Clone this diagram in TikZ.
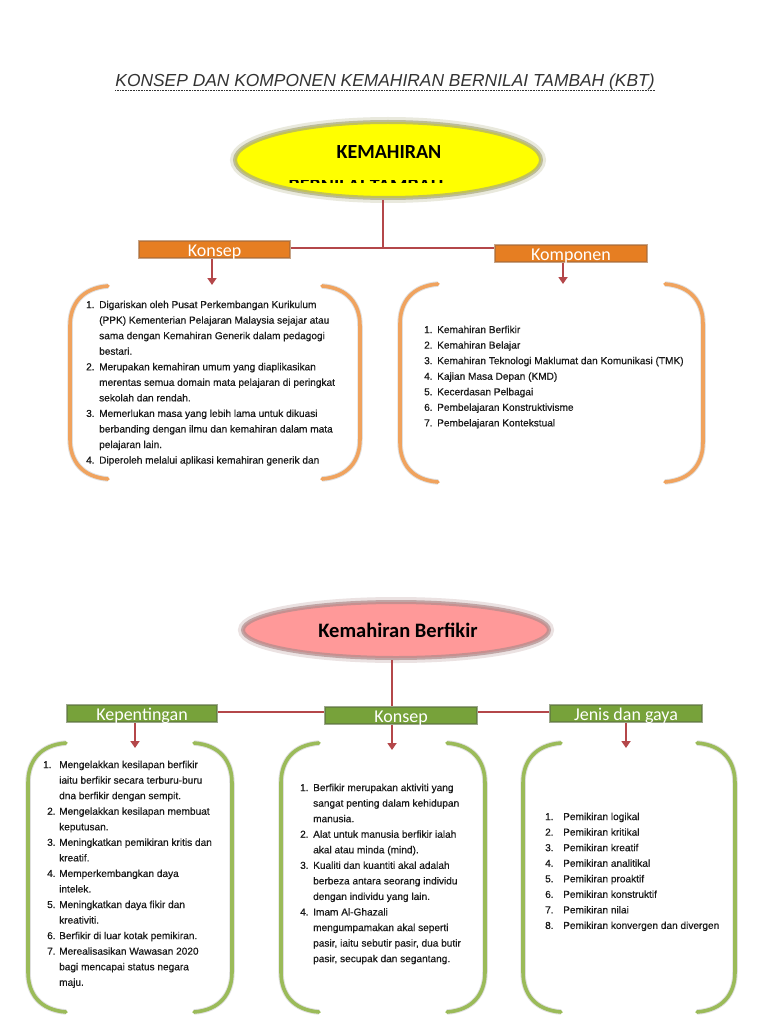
\documentclass[tikz,border=0pt]{standalone}
\usepackage{fontspec}
\setmainfont{Liberation Sans}
\newfontfamily\carl{Carlito}
\newfontfamily\listfont{Liberation Sans}[FakeBold=0.5]
\usetikzlibrary{shapes.geometric,arrows.meta}
\definecolor{linkc}{HTML}{B4474A}
\definecolor{orgbar}{HTML}{E67E22}
\definecolor{orgedge}{HTML}{A0683A}
\definecolor{grnbar}{HTML}{77A23A}
\definecolor{grnedge}{HTML}{5A6E40}
\definecolor{obrk}{HTML}{F0A35E}
\definecolor{gbrk}{HTML}{9BBB59}
\definecolor{yel}{HTML}{FFFF00}
\definecolor{yglow}{HTML}{A9A97A}
\definecolor{pnk}{HTML}{FF9999}
\definecolor{pglow}{HTML}{B08C8C}
\definecolor{txtc}{HTML}{1A1A1A}
\definecolor{titc}{HTML}{333333}
\newcommand\itm[2][13pt]{\makebox[#1][l]{#2}}
\newcommand\ind[1][13pt]{\hspace*{#1}}
\newcommand\brk[5]{%
 \draw[#5] ({#1+38},#3) .. controls ({#1+12},{#3+2}) and (#1,{#3+18}) .. (#1,{#3+40}) -- (#1,{#4-40}) .. controls (#1,{#4-18}) and ({#1+12},{#4-2}) .. ({#1+38},#4);
 \draw[#5] ({#2-38},#3) .. controls ({#2-12},{#3+2}) and (#2,{#3+18}) .. (#2,{#3+40}) -- (#2,{#4-40}) .. controls (#2,{#4-18}) and ({#2-12},{#4-2}) .. ({#2-38},#4);}
\begin{document}
\begin{tikzpicture}[x=1pt,y=-1pt,
  link/.style={draw=linkc, line width=2.4pt},
  arr/.style={draw=linkc, line width=2.4pt, -{Triangle[width=9pt,length=7pt]}},
  barbase/.style={rectangle, minimum height=17, inner sep=0, text=white, line width=2pt,
     text height=14pt, text depth=0pt,
     font=\carl\fontsize{18}{18}\selectfont},
  obar/.style={barbase, fill=orgbar, draw=orgedge, draw opacity=0.6},
  gbar/.style={barbase, fill=grnbar, draw=grnedge, draw opacity=0.6},
  list/.style={anchor=north west, inner sep=0, align=left, text=txtc,
     font=\listfont\fontsize{10.1}{15.55}\selectfont},
  obr/.style={draw=obrk, line width=3.6pt, line cap=round,
     preaction={draw=black, draw opacity=0.12, line width=5.5pt}},
  gbr/.style={draw=gbrk, line width=3.6pt, line cap=round,
     preaction={draw=black, draw opacity=0.12, line width=5.5pt}},
  ]
\useasboundingbox[fill=white] (0,0) rectangle (768,1024);

% title
\node[anchor=base, inner sep=0, text=titc, font=\itshape\fontsize{17.4}{19}\selectfont] (title) at (385,87)
  {KONSEP DAN KOMPONEN KEMAHIRAN BERNILAI TAMBAH (KBT)};
\draw[titc, line width=0.8pt, dash pattern=on 0.8pt off 0.8pt] (title.south west) -- (title.south east);

% top ellipse
\node[ellipse, minimum width=306, minimum height=76, inner sep=0, fill=yel,
  draw=yglow, draw opacity=0.7, line width=4pt,
  preaction={draw=yglow, draw opacity=0.25, line width=10pt}] (kbt) at (388,160) {};
\node[font=\carl\bfseries\fontsize{20}{20}\selectfont, inner sep=0] (kbttxt) at (389,152) {KEMAHIRAN};
\begin{scope}
  \clip (280,180.2) rectangle (460,182.6);
  \node[font=\carl\bfseries\fontsize{20}{20}\selectfont, inner sep=0, anchor=base] (kbtfrag) at (366,193) {BERNILAI TAMBAH};
\end{scope}

% top bars
\node[obar, minimum width=151] (konsep) at (214.5,249.5) {Konsep};
\node[obar, minimum width=152] (komponen) at (571,253) {Komponen};
\coordinate (j1) at (383,248);
\draw[link] (kbt.south -| j1) -- (j1);
\draw[link] (konsep.east |- j1) -- (komponen.west |- j1);
\coordinate (ta1) at (212,285);
\coordinate (ta2) at (563,284);
\draw[arr] (konsep.south -| ta1) -- (ta1);
\draw[arr] (komponen.south -| ta2) -- (ta2);

% top brackets
\brk{70}{360}{286}{479}{obr}
\brk{400}{703}{284}{482}{obr}

% top-left list
\node[list] (tl) at (86,297) {\strut\itm{1.}Digariskan oleh Pusat Perkembangan Kurikulum\\
\ind(PPK) Kementerian Pelajaran Malaysia sejajar atau\\
\ind sama dengan Kemahiran Generik dalam pedagogi\\
\ind bestari.\\
\itm{2.}Merupakan kemahiran umum yang diaplikasikan\\
\ind merentas semua domain mata pelajaran di peringkat\\
\ind sekolah dan rendah.\\
\itm{3.}Memerlukan masa yang lebih lama untuk dikuasi\\
\ind berbanding dengan ilmu dan kemahiran dalam mata\\
\ind pelajaran lain.\\
\itm{4.}Diperoleh melalui aplikasi kemahiran generik dan};

% top-right list
\node[list] (tr) at (424,322) {\strut\itm{1.}Kemahiran Berfikir\\
\itm{2.}Kemahiran Belajar\\
\itm{3.}Kemahiran Teknologi Maklumat dan Komunikasi (TMK)\\
\itm{4.}Kajian Masa Depan (KMD)\\
\itm{5.}Kecerdasan Pelbagai\\
\itm{6.}Pembelajaran Konstruktivisme\\
\itm{7.}Pembelajaran Kontekstual};

% bottom ellipse
\node[ellipse, minimum width=306, minimum height=56, inner sep=0, fill=pnk,
  draw=pglow, draw opacity=0.7, line width=4pt,
  preaction={draw=pglow, draw opacity=0.25, line width=10pt}] (kb) at (396,630) {};
\node[font=\carl\bfseries\fontsize{20.5}{20.5}\selectfont, inner sep=0, text=black] (kbtxt) at (398,630) {Kemahiran Berfikir};

% bottom bars
\node[gbar, minimum width=150] (kep) at (142,713.5) {Kepentingan};
\node[gbar, minimum width=152] (kon2) at (401,715.5) {Konsep};
\node[gbar, minimum width=152] (jenis) at (626,713) {Jenis dan gaya};
\coordinate (j2) at (392,712);
\draw[link] (kb.south -| j2) -- (kon2.north -| j2);
\draw[link] (kep.east |- j2) -- (kon2.west |- j2);
\draw[link] (kon2.east |- j2) -- (jenis.west |- j2);
\coordinate (ba1) at (135,748);
\coordinate (ba2) at (392,750);
\coordinate (ba3) at (626,748);
\draw[arr] (kep.south -| ba1) -- (ba1);
\draw[arr] (kon2.south -| ba2) -- (ba2);
\draw[arr] (jenis.south -| ba3) -- (ba3);

% bottom brackets
\brk{28}{232}{743}{1012}{gbr}
\brk{281}{485}{743}{1012}{gbr}
\brk{523}{735}{743}{1012}{gbr}

% bottom-left list
\node[list] (bl) at (43,757) {\strut\itm[16pt]{1.}Mengelakkan kesilapan berfikir\\
\ind[16pt]iaitu berfikir secara terburu-buru\\
\ind[16pt]dna berfikir dengan sempit.\\
\ind[4pt]\itm[12pt]{2.}Mengelakkan kesilapan membuat\\
\ind[16pt]keputusan.\\
\ind[4pt]\itm[12pt]{3.}Meningkatkan pemikiran kritis dan\\
\ind[16pt]kreatif.\\
\ind[4pt]\itm[12pt]{4.}Memperkembangkan daya\\
\ind[16pt]intelek.\\
\ind[4pt]\itm[12pt]{5.}Meningkatkan daya fikir dan\\
\ind[16pt]kreativiti.\\
\ind[4pt]\itm[12pt]{6.}Berfikir di luar kotak pemikiran.\\
\ind[4pt]\itm[12pt]{7.}Merealisasikan Wawasan 2020\\
\ind[16pt]bagi mencapai status negara\\
\ind[16pt]maju.};

% bottom-middle list
\node[list] (bm) at (300,780) {\strut\itm{1.}Berfikir merupakan aktiviti yang\\
\ind sangat penting dalam kehidupan\\
\ind manusia.\\
\itm{2.}Alat untuk manusia berfikir ialah\\
\ind akal atau minda (mind).\\
\itm{3.}Kualiti dan kuantiti akal adalah\\
\ind berbeza antara seorang individu\\
\ind dengan individu yang lain.\\
\itm{4.}Imam Al-Ghazali\\
\ind mengumpamakan akal seperti\\
\ind pasir, iaitu sebutir pasir, dua butir\\
\ind pasir, secupak dan segantang.};

% bottom-right list
\node[list] (br) at (545,809) {\strut\itm[18pt]{1.}Pemikiran logikal\\
\itm[18pt]{2.}Pemikiran kritikal\\
\itm[18pt]{3.}Pemikiran kreatif\\
\itm[18pt]{4.}Pemikiran analitikal\\
\itm[18pt]{5.}Pemikiran proaktif\\
\itm[18pt]{6.}Pemikiran konstruktif\\
\itm[18pt]{7.}Pemikiran nilai\\
\itm[18pt]{8.}Pemikiran konvergen dan divergen};
\end{tikzpicture}
\end{document}
